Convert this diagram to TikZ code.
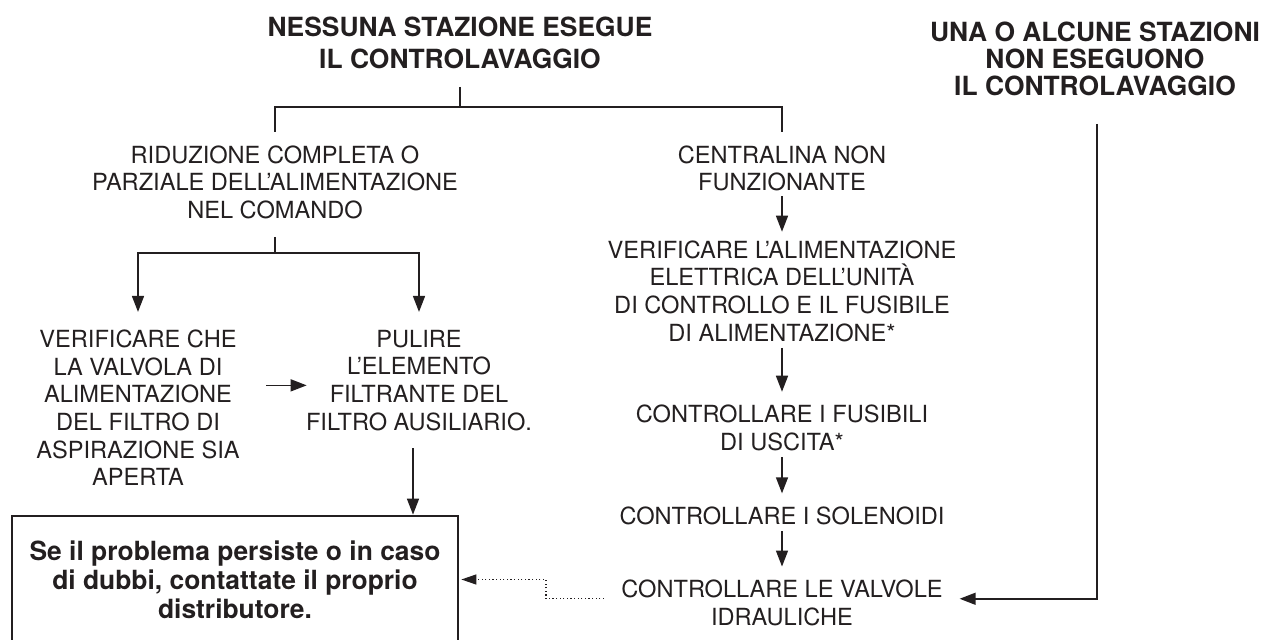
\documentclass[tikz,border=0pt]{standalone}
\usepackage{fontspec}
\setmainfont{TeX Gyre Heros}
\usetikzlibrary{arrows.meta}
\definecolor{Ink}{RGB}{35, 31, 32}

\begin{document}
\begin{tikzpicture}[
    x=0.5pt, y=-0.5pt,
    every node/.style={inner sep=0pt, text=Ink, align=center},
    heading/.style={anchor=north, font=\fontsize{13.2}{16}\selectfont\bfseries},
    action/.style={anchor=north, font=\fontsize{11.8}{13.8}\selectfont},
    finalbox/.style={draw=Ink, line width=1.35pt, minimum width=223pt, minimum height=63.5pt, font=\fontsize{13.2}{14.5}\selectfont\bfseries},
    link/.style={draw=Ink, line width=0.75pt},
    arr/.style={link, -{Triangle[length=8pt, width=6pt]}},
    dotlink/.style={draw=Ink, line width=0.6pt, dash pattern=on 0.6pt off 1.2pt, -{Triangle[length=7.5pt, width=5pt]}}
    ]
    \useasboundingbox (0,0) rectangle (1264,640);

    % titles
    \node[heading] (nessuna) at (460, 16.1) {NESSUNA STAZIONE ESEGUE\\IL CONTROLAVAGGIO};
    \node[heading, font=\fontsize{13.2}{13.5}\selectfont\bfseries] (alcune) at (1095, 21.1) {UNA O ALCUNE STAZIONI\\NON ESEGUONO\\IL CONTROLAVAGGIO};

    % left branch
    \node[action] (riduz) at (275, 145.05) {RIDUZIONE COMPLETA O\\PARZIALE DELL’ALIMENTAZIONE\\NEL COMANDO};
    \node[action] (valv) at (138, 329.75) {VERIFICARE CHE\\LA VALVOLA DI\\ALIMENTAZIONE\\DEL FILTRO DI\\ASPIRAZIONE SIA\\APERTA};
    \node[action] (pulire) at (419, 329.75) {PULIRE\\L’ELEMENTO\\FILTRANTE DEL\\FILTRO AUSILIARIO.};
    \node[finalbox] (contatto) at (235, 579.5) {Se il problema persiste o in caso\\di dubbi, contattate il proprio\\distributore.};

    % right branch
    \node[action] (centralina) at (782, 145.05) {CENTRALINA NON\\FUNZIONANTE};
    \node[action] (verifica) at (782, 240.3) {VERIFICARE L’ALIMENTAZIONE\\ELETTRICA DELL’UNITÀ\\DI CONTROLLO E IL FUSIBILE\\DI ALIMENTAZIONE*};
    \node[action] (fusibili) at (782, 404.75) {CONTROLLARE I FUSIBILI\\DI USCITA*};
    \node[action] (solenoidi) at (782, 506.35) {CONTROLLARE I SOLENOIDI};
    \node[action] (valvole) at (782, 579.55) {CONTROLLARE LE VALVOLE\\IDRAULICHE};

    % fork under the first title
    \draw[link] ([yshift=-9pt]nessuna.south) -- ++(0,20) coordinate (fork top)
        -| ([yshift=6.5pt]riduz.north);
    \draw[link] (fork top) -| ([yshift=6.5pt]centralina.north);

    % left branch connectors
    \draw[link] ([yshift=-8.9pt]riduz.south) -- ++(0,16) coordinate (fork left);
    \foreach \target in {valv, pulire}
    \draw[arr] (fork left) -| ([yshift=8.9pt]\target.north);
    \draw[arr] ([xshift=13.2pt, yshift=-2.5pt]valv.east |- pulire.west) -- ([xshift=0.5pt, yshift=-2.5pt]pulire.west);
    \draw[arr] ([xshift=-3pt, yshift=-8.75pt]pulire.south) -- ([xshift=-3pt]pulire.south |- contatto.north);

    % right branch connectors
    \draw[arr] ([yshift=-2.5pt]centralina.south) -- ([yshift=4.3pt]verifica.north);
    \foreach \a/\b in {verifica/fusibili, fusibili/solenoidi, solenoidi/valvole}
    \draw[arr] ([yshift=-3pt]\a.south) -- ([yshift=6.5pt]\b.north);
    \draw[arr] ([xshift=1pt, yshift=-14pt]alcune.south) |- ([xshift=8.3pt, yshift=2pt]valvole.east);
    \draw[dotlink] ([xshift=-8.5pt, yshift=2pt]valvole.west) -- ++(-58,0) |- ([xshift=1pt]contatto.east);
\end{tikzpicture}
\end{document}
